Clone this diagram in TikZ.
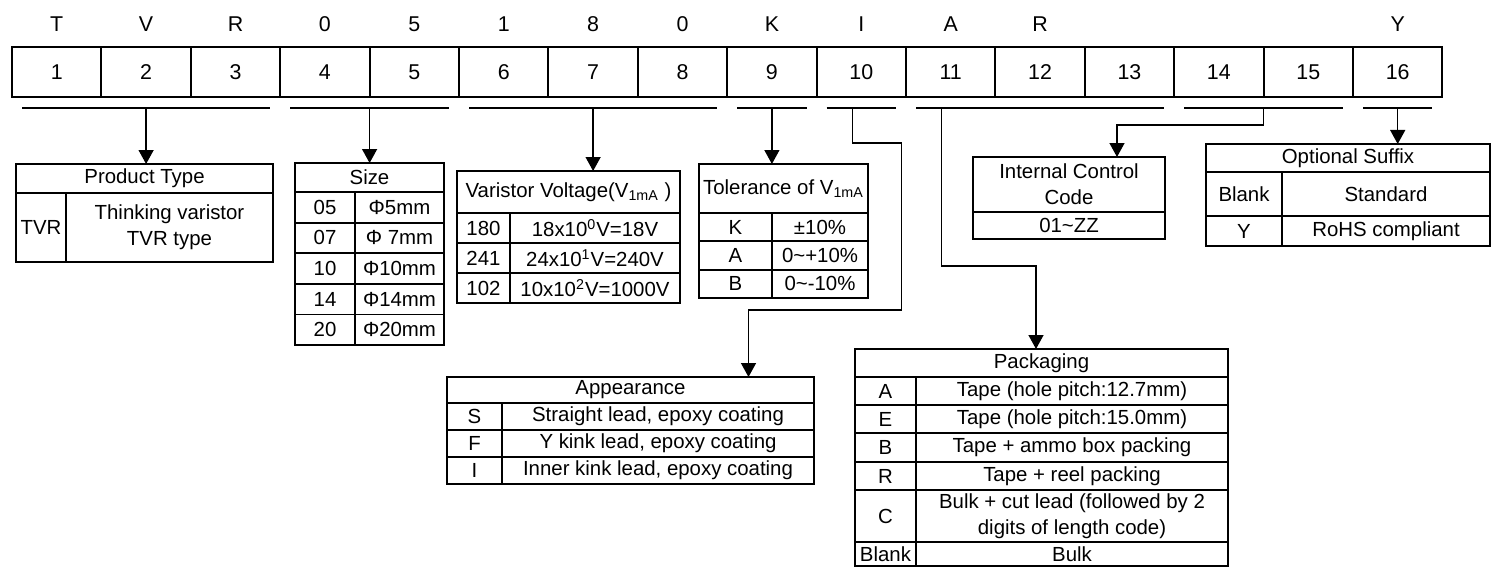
\documentclass[tikz,border=0pt]{standalone}
\usepackage{fontspec}
\setmainfont{Liberation Sans}
\usetikzlibrary{matrix,arrows.meta}

\begin{document}
\begin{tikzpicture}[x=0.5pt,y=-0.5pt,
  digit/.style={draw,line width=1pt,minimum width=44.7pt,minimum height=25pt,inner sep=0pt,outer sep=0pt},
  letter/.style={minimum height=20pt,inner sep=0pt},
  cell/.style={draw,line width=0.9pt,inner sep=0pt,outer sep=0pt,anchor=north west,align=center,font=\fontsize{10.2}{13}\selectfont},
  wh/.style 2 args={minimum width=#1*0.5pt,minimum height=#2*0.5pt},
  uline/.style={line width=0.7pt,shorten <=5pt,shorten >=5pt},
  conn/.style={line width=0.7pt,-{Triangle[width=7.5pt,length=7pt]}}]
\useasboundingbox (0,0) rectangle (1493,567);

\matrix (m)[matrix of nodes, anchor=north west, inner sep=0pt, outer sep=0pt, column sep=-1pt, row sep=1pt,
  nodes={anchor=center,font=\fontsize{10.7}{12}\selectfont},
  row 1/.style={nodes={letter}}, row 2/.style={nodes={digit}}] at (11,4) {
T & V & R & 0 & 5 & 1 & 8 & 0 & K & I & A & R & & & & Y \\
1 & 2 & 3 & 4 & 5 & 6 & 7 & 8 & 9 & 10 & 11 & 12 & 13 & 14 & 15 & 16 \\
};

\draw[uline] ([yshift=-5.5pt]m-2-1.south west)--([yshift=-5.5pt]m-2-3.south east);
\draw[uline] ([yshift=-5.5pt]m-2-4.south west)--([yshift=-5.5pt]m-2-5.south east);
\draw[uline] ([yshift=-5.5pt]m-2-6.south west)--([yshift=-5.5pt]m-2-8.south east);
\draw[uline] ([yshift=-5.5pt]m-2-9.south west)--([yshift=-5.5pt]m-2-9.south east);
\draw[uline] ([yshift=-5.5pt]m-2-10.south west)--([yshift=-5.5pt]m-2-10.south east);
\draw[uline] ([yshift=-5.5pt]m-2-11.south west)--([yshift=-5.5pt]m-2-13.south east);
\draw[uline] ([yshift=-5.5pt]m-2-14.south west)--([yshift=-5.5pt]m-2-15.south east);
\draw[uline] ([yshift=-5.5pt]m-2-16.south west)--([yshift=-5.5pt]m-2-16.south east);

% product type
\node[cell,wh={257}{29}] (pt) at (16,164) {Product Type};
\node[cell,wh={50}{69}] (pt-1) at (16,193) {TVR};
\node[cell,wh={207}{69}] (pt-2) at (66,193) {Thinking varistor\\TVR type};

% size
\node[cell,wh={149}{29}] (sz) at (295,163) {Size};
\node[cell,wh={60}{30.6}] (sz-1) at (295,192) {05};
\node[cell,wh={89}{30.6}] (sz-1v) at (355,192) {Φ5mm};
\node[cell,wh={60}{30.6}] (sz-2) at (295,222.6) {07};
\node[cell,wh={89}{30.6}] (sz-2v) at (355,222.6) {Φ 7mm};
\node[cell,wh={60}{30.6}] (sz-3) at (295,253.2) {10};
\node[cell,wh={89}{30.6}] (sz-3v) at (355,253.2) {Φ10mm};
\node[cell,wh={60}{30.6}] (sz-4) at (295,283.8) {14};
\node[cell,wh={89}{30.6}] (sz-4v) at (355,283.8) {Φ14mm};
\node[cell,wh={60}{30.6}] (sz-5) at (295,314.4) {20};
\node[cell,wh={89}{30.6}] (sz-5v) at (355,314.4) {Φ20mm};

% varistor voltage
\node[cell,wh={223}{42}] (vv) at (457,171) {Varistor Voltage(V\textsubscript{1mA} )};
\node[cell,wh={53}{30}] (vv-1) at (457,213) {180};
\node[cell,wh={170}{30}] (vv-1v) at (510,213) {18x10\textsuperscript{0}V=18V};
\node[cell,wh={53}{30}] (vv-2) at (457,243) {241};
\node[cell,wh={170}{30}] (vv-2v) at (510,243) {24x10\textsuperscript{1}V=240V};
\node[cell,wh={53}{30}] (vv-3) at (457,273) {102};
\node[cell,wh={170}{30}] (vv-3v) at (510,273) {10x10\textsuperscript{2}V=1000V};

% tolerance
\node[cell,wh={169}{49}] (tl) at (699,164) {Tolerance of V\textsubscript{1mA}};
\node[cell,wh={73}{28.3}] (tl-1) at (699,213) {K};
\node[cell,wh={96}{28.3}] (tl-1v) at (772,213) {±10\%};
\node[cell,wh={73}{28.3}] (tl-2) at (699,241.3) {A};
\node[cell,wh={96}{28.3}] (tl-2v) at (772,241.3) {0\textasciitilde+10\%};
\node[cell,wh={73}{28.3}] (tl-3) at (699,269.6) {B};
\node[cell,wh={96}{28.3}] (tl-3v) at (772,269.6) {0\textasciitilde-10\%};

% internal control code
\node[cell,wh={192}{55}] (ic) at (973,157) {Internal Control\\Code};
\node[cell,wh={192}{27}] (ic-1) at (973,212) {01\textasciitilde{}ZZ};

% optional suffix
\node[cell,wh={284}{28}] (os) at (1206,144) {Optional Suffix};
\node[cell,wh={76}{44}] (os-1) at (1206,172) {Blank};
\node[cell,wh={208}{44}] (os-1v) at (1282,172) {Standard};
\node[cell,wh={76}{30}] (os-2) at (1206,216) {Y};
\node[cell,wh={208}{30}] (os-2v) at (1282,216) {RoHS compliant};

% appearance
\node[cell,wh={367}{26}] (ap) at (447,377) {Appearance};
\node[cell,wh={55}{27}] (ap-1) at (447,403) {S};
\node[cell,wh={312}{27}] (ap-1v) at (502,403) {Straight lead, epoxy coating};
\node[cell,wh={55}{27}] (ap-2) at (447,430) {F};
\node[cell,wh={312}{27}] (ap-2v) at (502,430) {Y kink lead, epoxy coating};
\node[cell,wh={55}{27}] (ap-3) at (447,457) {I};
\node[cell,wh={312}{27}] (ap-3v) at (502,457) {Inner kink lead, epoxy coating};

% packaging
\node[cell,wh={373}{28}] (pk) at (855,349) {Packaging};
\node[cell,wh={61}{28}] (pk-1) at (855,377) {A};
\node[cell,wh={312}{28}] (pk-1v) at (916,377) {Tape (hole pitch:12.7mm)};
\node[cell,wh={61}{28}] (pk-2) at (855,405) {E};
\node[cell,wh={312}{28}] (pk-2v) at (916,405) {Tape (hole pitch:15.0mm)};
\node[cell,wh={61}{29}] (pk-3) at (855,433) {B};
\node[cell,wh={312}{29}] (pk-3v) at (916,433) {Tape + ammo box packing};
\node[cell,wh={61}{28}] (pk-4) at (855,462) {R};
\node[cell,wh={312}{28}] (pk-4v) at (916,462) {Tape + reel packing};
\node[cell,wh={61}{52}] (pk-5) at (855,490) {C};
\node[cell,wh={312}{52}] (pk-5v) at (916,490) {Bulk + cut lead (followed by 2\\digits of length code)};
\node[cell,wh={61}{24}] (pk-6) at (855,542) {Blank};
\node[cell,wh={312}{24}] (pk-6v) at (916,542) {Bulk};

\coordinate (k10) at ([xshift=-4.5pt,yshift=-5.5pt]m-2-10.south);
\coordinate (k11) at ([xshift=-4.5pt,yshift=-5.5pt]m-2-11.south);
\coordinate (k14) at ([yshift=-5.5pt]m-2-14.south east);
\coordinate (ap-in) at ([xshift=59pt]ap.north);
\coordinate (pk-in) at ([xshift=-2.75pt]pk.north);
\coordinate (ic-in) at ([xshift=24pt]ic.north);

\draw[conn] ([yshift=-5.5pt]m-2-2.south)--(m-2-2.south |- pt.north);
\draw[conn] ([yshift=-5.5pt]m-2-4.south east)--(m-2-4.south east |- sz.north);
\draw[conn] ([yshift=-5.5pt]m-2-7.south)--(m-2-7.south |- vv.north);
\draw[conn] ([yshift=-5.5pt]m-2-9.south)--(m-2-9.south |- tl.north);
\draw[conn] (k10)--++(0,35)--++(49,0)--++(0,167) -| (ap-in);
\draw[conn] (k11)--++(0,158) -| (pk-in);
\draw[conn] (k14)--++(0,17) -| (ic-in);
\draw[conn] ([yshift=-5.5pt]m-2-16.south)--(m-2-16.south |- os.north);
\end{tikzpicture}
\end{document}
